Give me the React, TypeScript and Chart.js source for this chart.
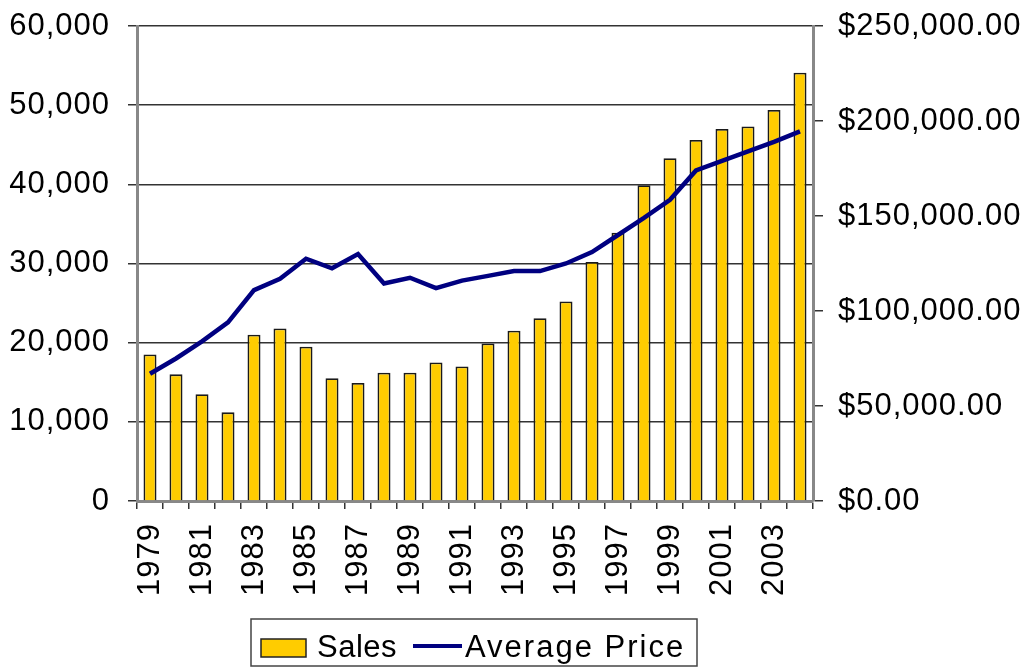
import React, { useEffect, useRef } from 'react';
import { Chart, registerables } from 'chart.js';

Chart.register(...registerables);

const years = [
  '1979', '1980', '1981', '1982', '1983', '1984', '1985', '1986', '1987',
  '1988', '1989', '1990', '1991', '1992', '1993', '1994', '1995', '1996',
  '1997', '1998', '1999', '2000', '2001', '2002', '2003', '2004',
];

const sales = [
  18500, 16000, 13500, 11200, 21000, 21800, 19500, 15500, 14900,
  16200, 16200, 17500, 17000, 19900, 21500, 23100, 25200, 30200,
  33900, 39900, 43300, 45600, 47000, 47300, 49400, 54100,
];

const averagePrice = [
  67000, 75000, 84000, 94000, 111000, 117000, 127500, 122500, 130000,
  114500, 117500, 112000, 116000, 118500, 121000, 121000, 125000, 131000,
  140000, 149000, 158500, 174000, 179000, 184000, 189000, 194500,
];

const salesAxis = { min: 0, max: 60000, step: 10000 };
const priceAxis = { min: 0, max: 250000, step: 50000 };

const FONT = '"Liberation Sans", Arial, Helvetica, sans-serif';

const textSpacing = {
  id: 'textSpacing',
  beforeLayout(chart: any) {
    (chart.ctx as any).letterSpacing = '1px';
  },
  beforeDraw(chart: any) {
    (chart.ctx as any).letterSpacing = '1px';
  },
};

const framedLegend = {
  id: 'framedLegend',
  afterDraw(chart: any) {
    const ctx = chart.ctx as CanvasRenderingContext2D;
    const ds = chart.data.datasets;
    ctx.save();
    ctx.strokeStyle = '#444';
    ctx.lineWidth = 1.5;
    ctx.strokeRect(251, 619, 446, 47);

    ctx.fillStyle = ds[0].backgroundColor;
    ctx.fillRect(261, 639, 45, 18);
    ctx.strokeStyle = '#222';
    ctx.lineWidth = 1.5;
    ctx.strokeRect(261, 639, 45, 18);

    ctx.font = `31px ${FONT}`;
    ctx.fillStyle = '#000';
    ctx.textBaseline = 'alphabetic';
    ctx.textAlign = 'left';
    (ctx as any).letterSpacing = '0.5px';
    ctx.fillText(ds[0].label, 317, 657);

    ctx.strokeStyle = ds[1].borderColor;
    ctx.lineWidth = 4;
    ctx.beginPath();
    ctx.moveTo(413, 646);
    ctx.lineTo(462, 646);
    ctx.stroke();

    (ctx as any).letterSpacing = '2px';
    ctx.fillText(ds[1].label, 465, 657);
    ctx.restore();
  },
};

export default function App() {
  const ref = useRef<HTMLCanvasElement | null>(null);

  useEffect(() => {
    if (!ref.current) return;
    const tickFont = { family: FONT, size: 31 };
    const chart = new Chart(ref.current, {
      type: 'bar',
      data: {
        labels: years,
        datasets: [
          {
            type: 'bar',
            label: 'Sales',
            data: sales,
            backgroundColor: '#FFCC00',
            borderColor: '#1a1a1a',
            borderWidth: 1.8,
            barPercentage: 0.5,
            categoryPercentage: 1,
            yAxisID: 'y',
            order: 1,
          },
          {
            type: 'line',
            label: 'Average Price',
            data: averagePrice,
            borderColor: '#000080',
            backgroundColor: '#000080',
            borderWidth: 4.5,
            pointRadius: 0,
            tension: 0,
            yAxisID: 'y1',
            order: 0,
          },
        ],
      } as any,
      options: {
        animation: false,
        responsive: false,
        maintainAspectRatio: false,
        devicePixelRatio: 1,
        layout: { padding: { top: 26, left: 0, right: 0, bottom: 0 } },
        plugins: {
          legend: { display: false },
          tooltip: { enabled: false },
        },
        scales: {
          x: {
            offset: true,
            grid: {
              display: true,
              drawOnChartArea: false,
              drawTicks: true,
              tickLength: 8,
              color: '#333',
              lineWidth: 1.5,
              offset: true,
            },
            border: { display: true, color: '#888', width: 3 },
            ticks: {
              autoSkip: false,
              minRotation: 90,
              maxRotation: 90,
              padding: 14,
              color: '#000',
              font: tickFont,
              callback: (_v: any, i: number) => (i % 2 === 0 ? years[i] : ''),
            },
            afterFit: (s: any) => {
              s.height = 166;
              s.paddingLeft = 0;
              s.paddingRight = 0;
            },
          },
          y: {
            position: 'left',
            min: salesAxis.min,
            max: salesAxis.max,
            ticks: {
              stepSize: salesAxis.step,
              padding: 18,
              color: '#000',
              font: tickFont,
              callback: (v: any) => Number(v).toLocaleString('en-US'),
            },
            grid: { color: '#333', lineWidth: 1.5, tickLength: 9, drawTicks: true },
            border: { display: true, color: '#888', width: 3 },
            afterFit: (s: any) => {
              s.width = 137;
              s.paddingTop = 0;
              s.paddingBottom = 0;
            },
          },
          y1: {
            position: 'right',
            min: priceAxis.min,
            max: priceAxis.max,
            ticks: {
              stepSize: priceAxis.step,
              padding: 15,
              color: '#000',
              font: tickFont,
              callback: (v: any) =>
                '$' +
                Number(v).toLocaleString('en-US', {
                  minimumFractionDigits: 2,
                  maximumFractionDigits: 2,
                }),
            },
            grid: {
              drawOnChartArea: false,
              color: '#333',
              lineWidth: 1.5,
              tickLength: 10,
              drawTicks: true,
            },
            border: { display: true, color: '#888', width: 3 },
            afterFit: (s: any) => {
              s.width = 210;
              s.paddingTop = 0;
              s.paddingBottom = 0;
            },
          },
        },
      } as any,
      plugins: [textSpacing, framedLegend],
    });
    return () => chart.destroy();
  }, []);

  return (
    <div style={{ position: 'absolute', left: 0, top: 0, width: 1023, height: 667, background: '#fff' }}>
      <canvas ref={ref} width={1023} height={667} style={{ display: 'block' }} />
    </div>
  );
}
